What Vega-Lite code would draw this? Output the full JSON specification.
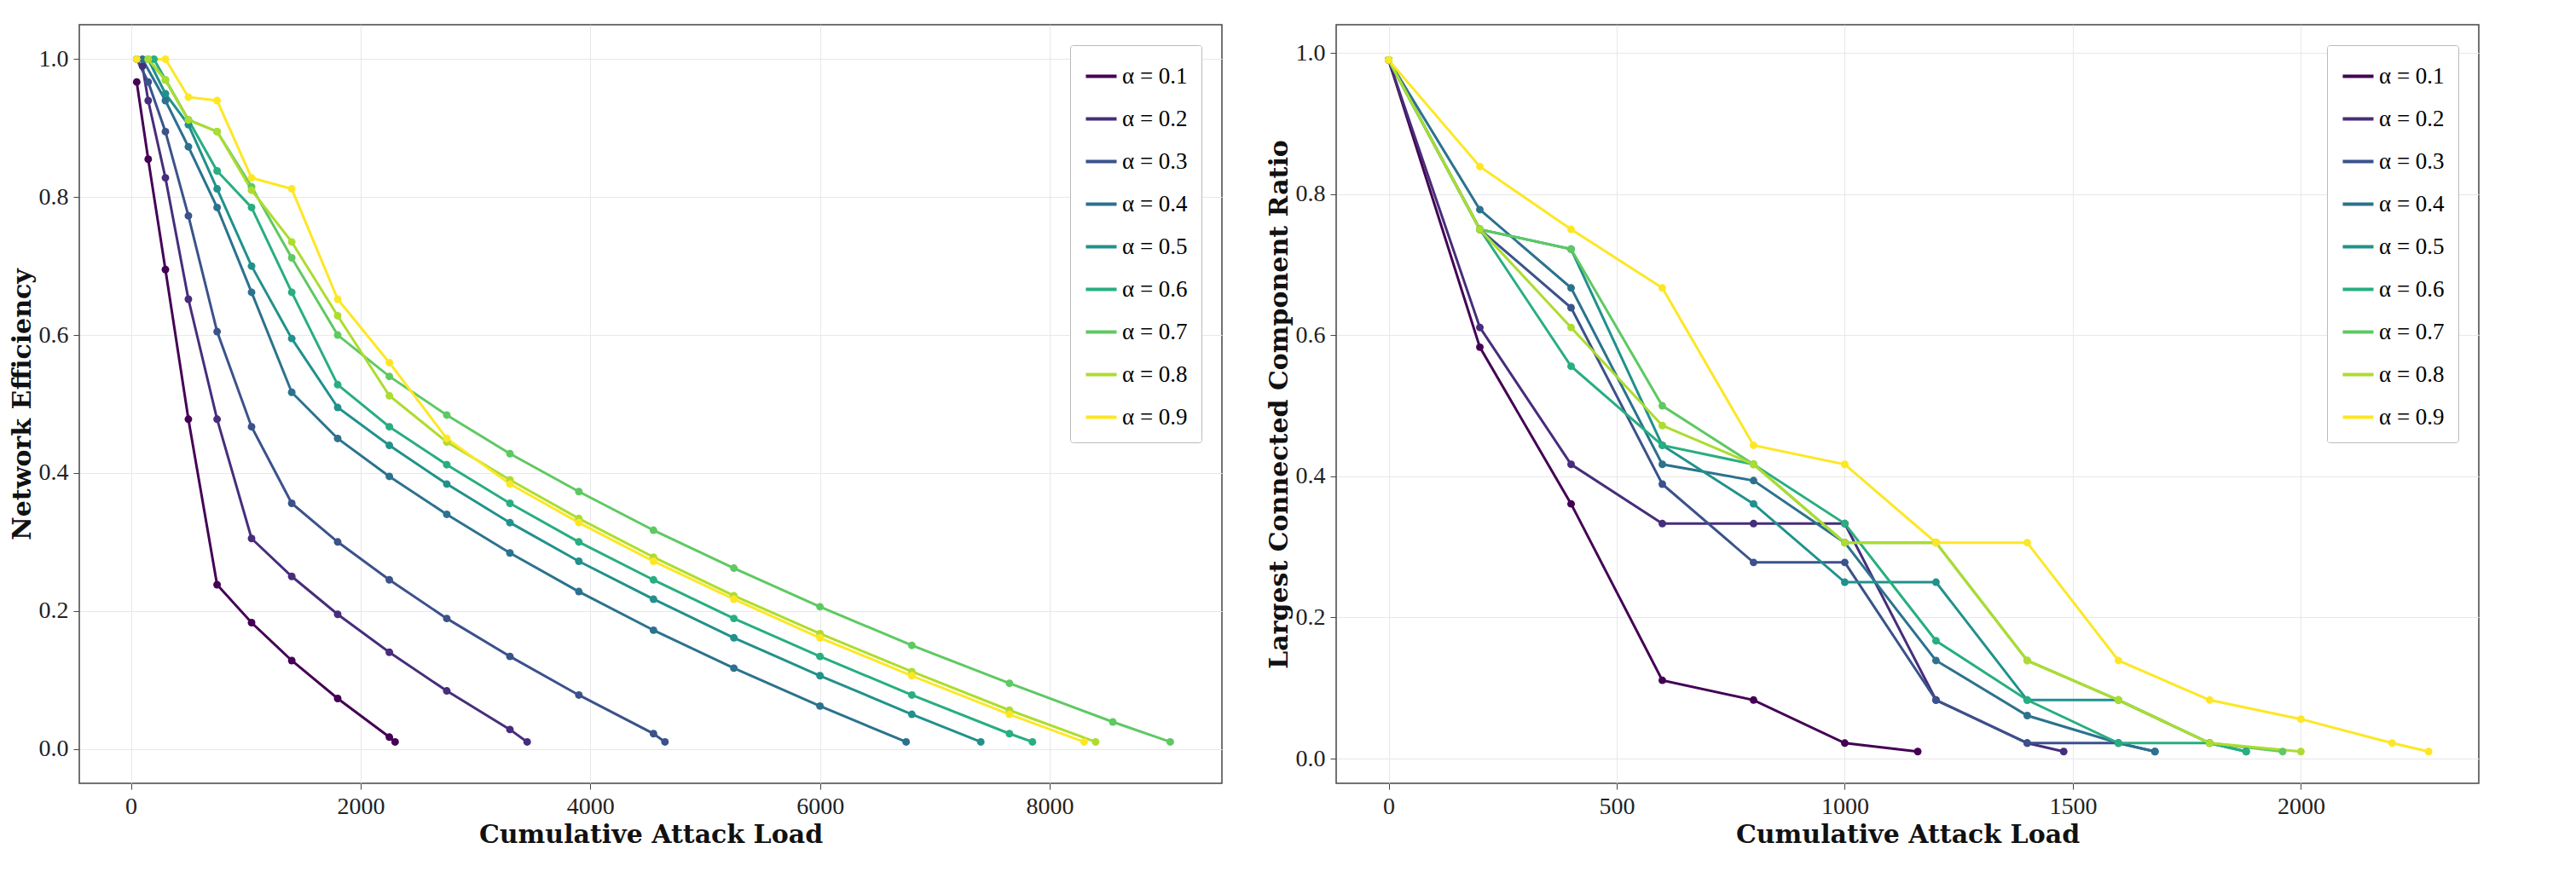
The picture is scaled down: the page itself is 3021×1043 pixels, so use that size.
{
"$schema":"https://vega.github.io/schema/vega-lite/v6.json",
"background":"white",
"padding":{"left":10,"top":28,"right":20,"bottom":5},
"config":{"font":"Liberation Serif","view":{"stroke":"#444","strokeWidth":1.5},
"axis":{"labelFont":"Liberation Serif","labelFontSize":28,"labelColor":"#222","titleFont":"DejaVu Serif","titleFontSize":30,"titleFontWeight":"bold","titleColor":"#111","gridColor":"#e8e8e8","domain":false,"tickColor":"#444","tickSize":7,"labelPadding":6,"format":"d"},
"legend":{"labelFont":"Liberation Serif","labelFontSize":27,"symbolType":"stroke","symbolStrokeWidth":4,"symbolSize":1300,"rowPadding":16,"strokeColor":"#bbb","fillColor":"white","padding":16,"cornerRadius":3,"title":null,"orient":"top-right","offset":24}},
"spacing":50,
"datasets":{
"ne":[
{"a":"α = 0.1","x":50,"y":0.967},{"a":"α = 0.1","x":150,"y":0.855},{"a":"α = 0.1","x":300,"y":0.695},{"a":"α = 0.1","x":500,"y":0.478},{"a":"α = 0.1","x":750,"y":0.238},{"a":"α = 0.1","x":1050,"y":0.183},{"a":"α = 0.1","x":1400,"y":0.128},{"a":"α = 0.1","x":1800,"y":0.073},{"a":"α = 0.1","x":2250,"y":0.017},{"a":"α = 0.1","x":2300,"y":0.01},
{"a":"α = 0.2","x":100,"y":0.99},{"a":"α = 0.2","x":150,"y":0.94},{"a":"α = 0.2","x":300,"y":0.828},{"a":"α = 0.2","x":500,"y":0.652},{"a":"α = 0.2","x":750,"y":0.478},{"a":"α = 0.2","x":1050,"y":0.305},{"a":"α = 0.2","x":1400,"y":0.25},{"a":"α = 0.2","x":1800,"y":0.195},{"a":"α = 0.2","x":2250,"y":0.14},{"a":"α = 0.2","x":2750,"y":0.084},{"a":"α = 0.2","x":3300,"y":0.028},{"a":"α = 0.2","x":3450,"y":0.01},
{"a":"α = 0.3","x":50,"y":1.0},{"a":"α = 0.3","x":150,"y":0.967},{"a":"α = 0.3","x":300,"y":0.895},{"a":"α = 0.3","x":500,"y":0.773},{"a":"α = 0.3","x":750,"y":0.605},{"a":"α = 0.3","x":1050,"y":0.467},{"a":"α = 0.3","x":1400,"y":0.356},{"a":"α = 0.3","x":1800,"y":0.3},{"a":"α = 0.3","x":2250,"y":0.245},{"a":"α = 0.3","x":2750,"y":0.189},{"a":"α = 0.3","x":3300,"y":0.134},{"a":"α = 0.3","x":3900,"y":0.078},{"a":"α = 0.3","x":4550,"y":0.022},{"a":"α = 0.3","x":4650,"y":0.01},
{"a":"α = 0.4","x":100,"y":1.0},{"a":"α = 0.4","x":300,"y":0.94},{"a":"α = 0.4","x":500,"y":0.873},{"a":"α = 0.4","x":750,"y":0.785},{"a":"α = 0.4","x":1050,"y":0.662},{"a":"α = 0.4","x":1400,"y":0.517},{"a":"α = 0.4","x":1800,"y":0.45},{"a":"α = 0.4","x":2250,"y":0.395},{"a":"α = 0.4","x":2750,"y":0.34},{"a":"α = 0.4","x":3300,"y":0.284},{"a":"α = 0.4","x":3900,"y":0.228},{"a":"α = 0.4","x":4550,"y":0.172},{"a":"α = 0.4","x":5250,"y":0.117},{"a":"α = 0.4","x":6000,"y":0.062},{"a":"α = 0.4","x":6750,"y":0.01},
{"a":"α = 0.5","x":150,"y":1.0},{"a":"α = 0.5","x":300,"y":0.95},{"a":"α = 0.5","x":500,"y":0.905},{"a":"α = 0.5","x":750,"y":0.812},{"a":"α = 0.5","x":1050,"y":0.7},{"a":"α = 0.5","x":1400,"y":0.595},{"a":"α = 0.5","x":1800,"y":0.495},{"a":"α = 0.5","x":2250,"y":0.44},{"a":"α = 0.5","x":2750,"y":0.384},{"a":"α = 0.5","x":3300,"y":0.328},{"a":"α = 0.5","x":3900,"y":0.272},{"a":"α = 0.5","x":4550,"y":0.217},{"a":"α = 0.5","x":5250,"y":0.161},{"a":"α = 0.5","x":6000,"y":0.106},{"a":"α = 0.5","x":6800,"y":0.05},{"a":"α = 0.5","x":7400,"y":0.01},
{"a":"α = 0.6","x":200,"y":1.0},{"a":"α = 0.6","x":500,"y":0.912},{"a":"α = 0.6","x":750,"y":0.838},{"a":"α = 0.6","x":1050,"y":0.785},{"a":"α = 0.6","x":1400,"y":0.662},{"a":"α = 0.6","x":1800,"y":0.528},{"a":"α = 0.6","x":2250,"y":0.467},{"a":"α = 0.6","x":2750,"y":0.412},{"a":"α = 0.6","x":3300,"y":0.356},{"a":"α = 0.6","x":3900,"y":0.3},{"a":"α = 0.6","x":4550,"y":0.245},{"a":"α = 0.6","x":5250,"y":0.189},{"a":"α = 0.6","x":6000,"y":0.134},{"a":"α = 0.6","x":6800,"y":0.078},{"a":"α = 0.6","x":7650,"y":0.022},{"a":"α = 0.6","x":7850,"y":0.01},
{"a":"α = 0.7","x":150,"y":1.0},{"a":"α = 0.7","x":300,"y":0.97},{"a":"α = 0.7","x":500,"y":0.912},{"a":"α = 0.7","x":750,"y":0.895},{"a":"α = 0.7","x":1050,"y":0.815},{"a":"α = 0.7","x":1400,"y":0.712},{"a":"α = 0.7","x":1800,"y":0.6},{"a":"α = 0.7","x":2250,"y":0.54},{"a":"α = 0.7","x":2750,"y":0.484},{"a":"α = 0.7","x":3300,"y":0.428},{"a":"α = 0.7","x":3900,"y":0.373},{"a":"α = 0.7","x":4550,"y":0.317},{"a":"α = 0.7","x":5250,"y":0.262},{"a":"α = 0.7","x":6000,"y":0.206},{"a":"α = 0.7","x":6800,"y":0.15},{"a":"α = 0.7","x":7650,"y":0.095},{"a":"α = 0.7","x":8550,"y":0.039},{"a":"α = 0.7","x":9050,"y":0.01},
{"a":"α = 0.8","x":150,"y":1.0},{"a":"α = 0.8","x":300,"y":0.97},{"a":"α = 0.8","x":500,"y":0.912},{"a":"α = 0.8","x":750,"y":0.895},{"a":"α = 0.8","x":1050,"y":0.81},{"a":"α = 0.8","x":1400,"y":0.735},{"a":"α = 0.8","x":1800,"y":0.628},{"a":"α = 0.8","x":2250,"y":0.512},{"a":"α = 0.8","x":2750,"y":0.445},{"a":"α = 0.8","x":3300,"y":0.39},{"a":"α = 0.8","x":3900,"y":0.334},{"a":"α = 0.8","x":4550,"y":0.278},{"a":"α = 0.8","x":5250,"y":0.222},{"a":"α = 0.8","x":6000,"y":0.167},{"a":"α = 0.8","x":6800,"y":0.112},{"a":"α = 0.8","x":7650,"y":0.056},{"a":"α = 0.8","x":8400,"y":0.01},
{"a":"α = 0.9","x":50,"y":1.0},{"a":"α = 0.9","x":300,"y":1.0},{"a":"α = 0.9","x":500,"y":0.945},{"a":"α = 0.9","x":750,"y":0.94},{"a":"α = 0.9","x":1050,"y":0.828},{"a":"α = 0.9","x":1400,"y":0.812},{"a":"α = 0.9","x":1800,"y":0.652},{"a":"α = 0.9","x":2250,"y":0.56},{"a":"α = 0.9","x":2750,"y":0.45},{"a":"α = 0.9","x":3300,"y":0.384},{"a":"α = 0.9","x":3900,"y":0.328},{"a":"α = 0.9","x":4550,"y":0.272},{"a":"α = 0.9","x":5250,"y":0.217},{"a":"α = 0.9","x":6000,"y":0.161},{"a":"α = 0.9","x":6800,"y":0.106},{"a":"α = 0.9","x":7650,"y":0.05},{"a":"α = 0.9","x":8300,"y":0.01}
],
"lcc":[
{"a":"α = 0.1","x":0,"y":0.99},{"a":"α = 0.1","x":200,"y":0.583},{"a":"α = 0.1","x":400,"y":0.361},{"a":"α = 0.1","x":600,"y":0.111},{"a":"α = 0.1","x":800,"y":0.083},{"a":"α = 0.1","x":1000,"y":0.022},{"a":"α = 0.1","x":1160,"y":0.01},
{"a":"α = 0.2","x":0,"y":0.99},{"a":"α = 0.2","x":200,"y":0.611},{"a":"α = 0.2","x":400,"y":0.417},{"a":"α = 0.2","x":600,"y":0.333},{"a":"α = 0.2","x":800,"y":0.333},{"a":"α = 0.2","x":1000,"y":0.333},{"a":"α = 0.2","x":1200,"y":0.083},{"a":"α = 0.2","x":1400,"y":0.022},{"a":"α = 0.2","x":1480,"y":0.01},
{"a":"α = 0.3","x":0,"y":0.99},{"a":"α = 0.3","x":200,"y":0.75},{"a":"α = 0.3","x":400,"y":0.639},{"a":"α = 0.3","x":600,"y":0.389},{"a":"α = 0.3","x":800,"y":0.278},{"a":"α = 0.3","x":1000,"y":0.278},{"a":"α = 0.3","x":1200,"y":0.083},{"a":"α = 0.3","x":1400,"y":0.022},{"a":"α = 0.3","x":1600,"y":0.022},{"a":"α = 0.3","x":1680,"y":0.01},
{"a":"α = 0.4","x":0,"y":0.99},{"a":"α = 0.4","x":200,"y":0.778},{"a":"α = 0.4","x":400,"y":0.667},{"a":"α = 0.4","x":600,"y":0.417},{"a":"α = 0.4","x":800,"y":0.394},{"a":"α = 0.4","x":1000,"y":0.306},{"a":"α = 0.4","x":1200,"y":0.139},{"a":"α = 0.4","x":1400,"y":0.061},{"a":"α = 0.4","x":1600,"y":0.022},{"a":"α = 0.4","x":1680,"y":0.01},
{"a":"α = 0.5","x":0,"y":0.99},{"a":"α = 0.5","x":200,"y":0.75},{"a":"α = 0.5","x":400,"y":0.722},{"a":"α = 0.5","x":600,"y":0.444},{"a":"α = 0.5","x":800,"y":0.361},{"a":"α = 0.5","x":1000,"y":0.25},{"a":"α = 0.5","x":1200,"y":0.25},{"a":"α = 0.5","x":1400,"y":0.083},{"a":"α = 0.5","x":1600,"y":0.083},{"a":"α = 0.5","x":1800,"y":0.022},{"a":"α = 0.5","x":1880,"y":0.01},
{"a":"α = 0.6","x":0,"y":0.99},{"a":"α = 0.6","x":200,"y":0.75},{"a":"α = 0.6","x":400,"y":0.556},{"a":"α = 0.6","x":600,"y":0.444},{"a":"α = 0.6","x":800,"y":0.417},{"a":"α = 0.6","x":1000,"y":0.333},{"a":"α = 0.6","x":1200,"y":0.167},{"a":"α = 0.6","x":1400,"y":0.083},{"a":"α = 0.6","x":1600,"y":0.022},{"a":"α = 0.6","x":1800,"y":0.022},{"a":"α = 0.6","x":1880,"y":0.01},
{"a":"α = 0.7","x":0,"y":0.99},{"a":"α = 0.7","x":200,"y":0.75},{"a":"α = 0.7","x":400,"y":0.722},{"a":"α = 0.7","x":600,"y":0.5},{"a":"α = 0.7","x":800,"y":0.417},{"a":"α = 0.7","x":1000,"y":0.306},{"a":"α = 0.7","x":1200,"y":0.306},{"a":"α = 0.7","x":1400,"y":0.139},{"a":"α = 0.7","x":1600,"y":0.083},{"a":"α = 0.7","x":1800,"y":0.022},{"a":"α = 0.7","x":1960,"y":0.01},
{"a":"α = 0.8","x":0,"y":0.99},{"a":"α = 0.8","x":200,"y":0.75},{"a":"α = 0.8","x":400,"y":0.611},{"a":"α = 0.8","x":600,"y":0.472},{"a":"α = 0.8","x":800,"y":0.417},{"a":"α = 0.8","x":1000,"y":0.306},{"a":"α = 0.8","x":1200,"y":0.306},{"a":"α = 0.8","x":1400,"y":0.139},{"a":"α = 0.8","x":1600,"y":0.083},{"a":"α = 0.8","x":1800,"y":0.022},{"a":"α = 0.8","x":2000,"y":0.01},
{"a":"α = 0.9","x":0,"y":0.99},{"a":"α = 0.9","x":200,"y":0.839},{"a":"α = 0.9","x":400,"y":0.75},{"a":"α = 0.9","x":600,"y":0.667},{"a":"α = 0.9","x":800,"y":0.444},{"a":"α = 0.9","x":1000,"y":0.417},{"a":"α = 0.9","x":1200,"y":0.306},{"a":"α = 0.9","x":1400,"y":0.306},{"a":"α = 0.9","x":1600,"y":0.139},{"a":"α = 0.9","x":1800,"y":0.083},{"a":"α = 0.9","x":2000,"y":0.056},{"a":"α = 0.9","x":2200,"y":0.022},{"a":"α = 0.9","x":2280,"y":0.01}
]},
"hconcat":[
{"width":1340,"height":890,"data":{"name":"ne"},
"mark":{"type":"line","strokeWidth":3,"point":{"size":80,"filled":true}},
"encoding":{
"x":{"field":"x","type":"quantitative","title":"Cumulative Attack Load","scale":{"domain":[-450,9500],"nice":false,"zero":false},"axis":{"values":[0,2000,4000,6000,8000],"labelFlush":false}},
"y":{"field":"y","type":"quantitative","title":"Network Efficiency","scale":{"domain":[-0.05,1.05],"nice":false},"axis":{"values":[0,0.2,0.4,0.6,0.8,1.0],"format":".1f"}},
"color":{"field":"a","type":"nominal","scale":{"range":["#440154","#472d7b","#3b528b","#2c728e","#21918c","#28ae80","#5ec962","#addc30","#fde725"]}}}},
{"width":1340,"height":890,"data":{"name":"lcc"},
"mark":{"type":"line","strokeWidth":3,"point":{"size":80,"filled":true}},
"encoding":{
"x":{"field":"x","type":"quantitative","title":"Cumulative Attack Load","scale":{"domain":[-115,2390],"nice":false,"zero":false},"axis":{"values":[0,500,1000,1500,2000],"labelFlush":false}},
"y":{"field":"y","type":"quantitative","title":"Largest Connected Component Ratio","scale":{"domain":[-0.035,1.04],"nice":false},"axis":{"values":[0,0.2,0.4,0.6,0.8,1.0],"format":".1f"}},
"color":{"field":"a","type":"nominal","scale":{"range":["#440154","#472d7b","#3b528b","#2c728e","#21918c","#28ae80","#5ec962","#addc30","#fde725"]}}}}
],
"resolve":{"scale":{"color":"independent"},"legend":{"color":"independent"}}
}
